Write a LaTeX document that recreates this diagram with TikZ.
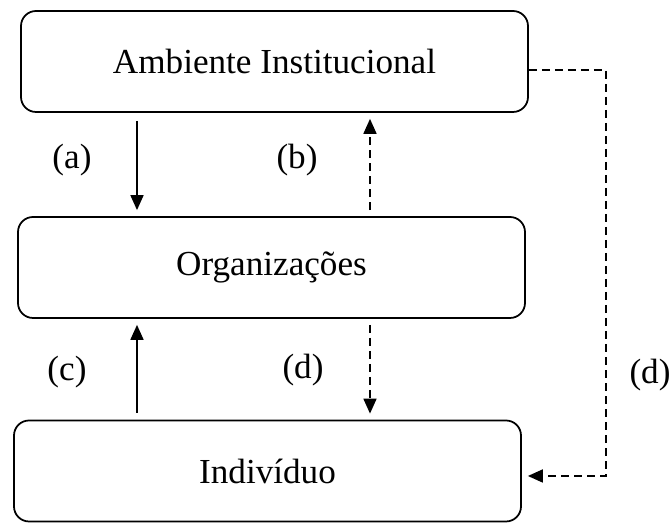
\documentclass[tikz,border=0pt]{standalone}
\usepackage{fontspec}
\setmainfont{Liberation Serif}
\usetikzlibrary{arrows.meta}
\tikzset{
	caixa/.style={draw, rounded corners=0.3cm, line width=1pt, minimum width=10.14cm, minimum height=2.02cm, font=\fontsize{20}{23}\selectfont},
	rotulo/.style={draw=none, font=\fontsize{20}{23}\selectfont},
	seta/.style={line width=1pt, -{Triangle[length=0.3cm,width=0.26cm]}},
	tracejado/.style={seta, dash pattern=on 0.16cm off 0.1cm}
}
\begin{document}
\begin{tikzpicture}
			\useasboundingbox (0,0) rectangle (13.44,10.46);
			\node (amb)[caixa] at (5.49,9.23) {Ambiente Institucional};
			\node (org)[caixa] at (5.43,5.11) {Organizações};
			\node (ind)[caixa] at (5.35,1.04) {Indivíduo};
			\coordinate (xa) at (2.74,0);
			\coordinate (xb) at (7.40,0);
			
			\draw[seta, shorten <=0.16cm, shorten >=0.12cm]
			(amb.south -| xa)--(org.north -| xa);
			\draw[tracejado, shorten <=0.12cm, shorten >=0.12cm]
			(org.north -| xb)--(amb.south -| xb);
			\draw[seta, shorten <=0.14cm, shorten >=0.12cm]
			(ind.north -| xa)--(org.south -| xa);
			\draw[tracejado, shorten <=0.12cm, shorten >=0.12cm]
			(org.south -| xb)--(ind.north -| xb);
			\draw[tracejado]
			([yshift=-0.17cm]amb.east)--++(1.54,0) |- ([xshift=0.12cm,yshift=-0.1cm]ind.east);
			
			\node (la)[rotulo] at (1.44,7.26) {(a)};
			\node (lb)[rotulo] at (5.94,7.26) {(b)};
			\node (lc)[rotulo] at (1.34,3.02) {(c)};
			\node (ld)[rotulo] at (6.06,3.06) {(d)};
			\node (le)[rotulo] at (13.0,2.96) {(d)};
		\end{tikzpicture}
\end{document}
